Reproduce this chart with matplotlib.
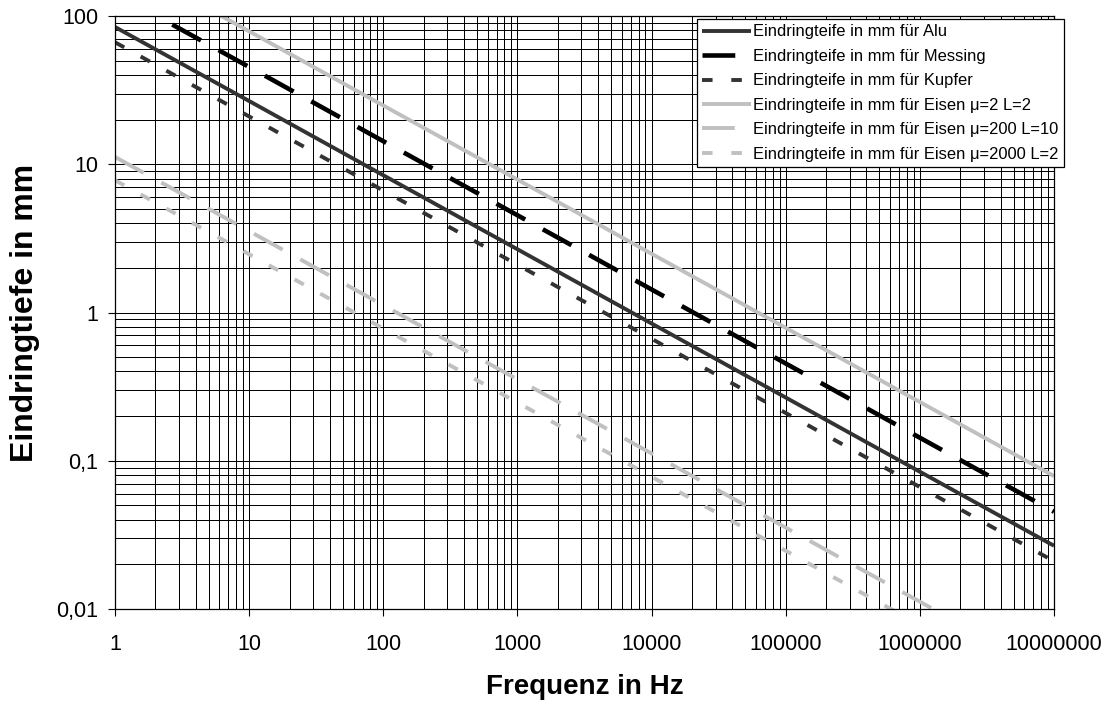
import matplotlib
matplotlib.use("Agg")
import matplotlib.pyplot as plt
from matplotlib.ticker import FixedLocator, FixedFormatter, LogLocator, NullFormatter

plt.rcParams['font.family'] = ['Liberation Sans', 'DejaVu Sans']
plt.rcParams['lines.scale_dashes'] = False

# Data (decade points)
freq = [1, 10, 100, 1000, 10000, 100000, 1000000, 10000000]
alu = [84.3, 26.7, 8.43, 2.67, 0.843, 0.267, 0.0843, 0.0267]
messing = [143, 45.3, 14.3, 4.53, 1.43, 0.453, 0.143, 0.0453]
kupfer = [66.5, 21.0, 6.65, 2.10, 0.665, 0.210, 0.0665, 0.0210]
eisen_2 = [249, 78.8, 24.9, 7.88, 2.49, 0.788, 0.249, 0.0788]
eisen_200 = [11.2, 3.54, 1.12, 0.354, 0.112, 0.0354, 0.0112, 0.00354]
eisen_2000 = [7.8, 2.47, 0.78, 0.247, 0.078, 0.0247, 0.0078, 0.00247]

labels = ["Eindringteife in mm für Alu",
          "Eindringteife in mm für Messing",
          "Eindringteife in mm für Kupfer",
          "Eindringteife in mm für Eisen μ=2 L=2",
          "Eindringteife in mm für Eisen μ=200 L=10",
          "Eindringteife in mm für Eisen μ=2000 L=2"]

x_ticks = [1, 10, 100, 1000, 10000, 100000, 1000000, 10000000]
x_ticklabels = ["1", "10", "100", "1000", "10000", "100000", "1000000", "10000000"]
y_ticks = [0.01, 0.1, 1, 10, 100]
y_ticklabels = ["0,01", "0,1", "1", "10", "100"]

fig = plt.figure(figsize=(11.12, 7.04), dpi=100)
ax = fig.add_axes([115/1112, 1-609/704, (1054-115)/1112, (609-16)/704])
ax.set_xscale('log')
ax.set_yscale('log')
ax.set_xlim(1, 1e7)
ax.set_ylim(0.01, 100)

ax.grid(True, which='both', color='black', linewidth=0.72, zorder=0)
ax.set_axisbelow(True)

dark = '#333333'
light = '#C0C0C0'
lw = 2.8
ax.plot(freq, alu, color=dark, lw=lw, solid_capstyle='butt', label=labels[0])
ax.plot(freq, messing, color='black', lw=3.3, dashes=(23.6, 14.5), dash_capstyle='butt', label=labels[1])
ax.plot(freq, kupfer, color=dark, lw=lw, dashes=(7.6, 13.5), dash_capstyle='butt', label=labels[2])
ax.plot(freq, eisen_2, color=light, lw=lw, solid_capstyle='butt', label=labels[3])
ax.plot(freq, eisen_200, color=light, lw=lw, dashes=(23.6, 14.5), dash_capstyle='butt', label=labels[4])
ax.plot(freq, eisen_2000, color=light, lw=lw, dashes=(7.6, 13.5), dash_capstyle='butt', label=labels[5])

ax.xaxis.set_major_locator(FixedLocator(x_ticks))
ax.xaxis.set_major_formatter(FixedFormatter(x_ticklabels))
ax.yaxis.set_major_locator(FixedLocator(y_ticks))
ax.yaxis.set_major_formatter(FixedFormatter(y_ticklabels))
ax.xaxis.set_minor_locator(LogLocator(base=10, subs=range(2, 10), numticks=20))
ax.yaxis.set_minor_locator(LogLocator(base=10, subs=range(2, 10), numticks=20))
ax.xaxis.set_minor_formatter(NullFormatter())
ax.yaxis.set_minor_formatter(NullFormatter())
ax.tick_params(which='minor', length=0)
ax.tick_params(which='major', direction='out', length=5, width=0.8, labelsize=15.5, color='black')
ax.tick_params(axis='x', pad=13)
ax.tick_params(axis='y', pad=7)
for s in ax.spines.values():
    s.set_linewidth(0.9)
    s.set_color('black')

ax.set_xlabel("Frequenz in Hz", fontsize=20, fontweight='bold', labelpad=14)
ax.set_ylabel("Eindringtiefe in mm", fontsize=23, fontweight='bold', labelpad=12)

leg = ax.legend(loc='upper left', bbox_to_anchor=(697/1112, 1-19/704), bbox_transform=fig.transFigure,
                fontsize=11.9, frameon=True, fancybox=False, framealpha=1, edgecolor='black',
                handlelength=2.95, handletextpad=0.12, labelspacing=0.57, borderpad=0.33, borderaxespad=0)
leg.get_frame().set_linewidth(0.9)
leg.set_zorder(10)

fig.savefig("out.png", dpi=100)
